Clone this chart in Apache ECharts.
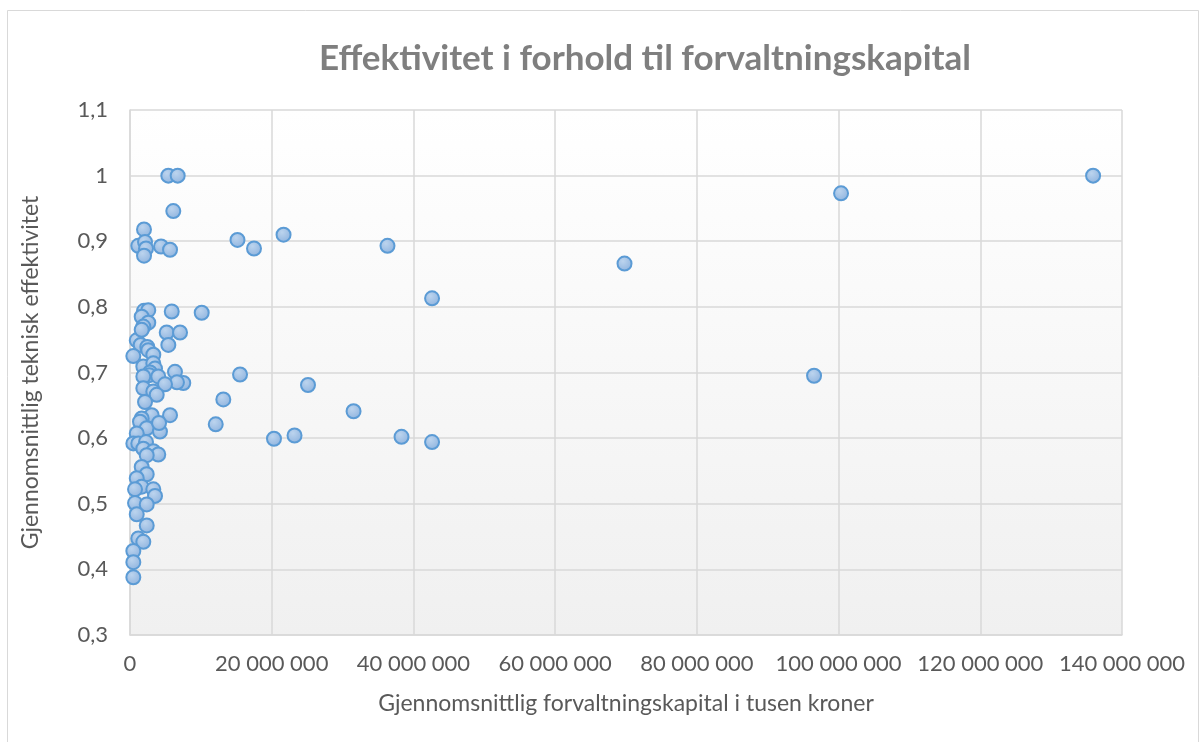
<!DOCTYPE html>
<html>
<head>
<meta charset="utf-8">
<script src="https://cdn.jsdelivr.net/npm/echarts@6/dist/echarts.min.js"></script>
<style>
  html, body { margin: 0; padding: 0; background: #ffffff; }
  #chart { width: 1203px; height: 742px; }
</style>
</head>
<body>
<div id="chart"></div>
<script>
// Gjennomsnittlig forvaltningskapital (tusen kroner) per enhet
const kapital = [
  1976000, 1170000, 2120000, 2260000, 1980000, 4380000, 5650000, 6110000, 5410000, 6730000,
  1980000, 2580000, 5890000, 1650000, 2580000, 1880000, 5180000, 7060000, 5410000, 950000,
  1510000, 2440000, 2580000, 470000, 3290000, 1880000, 3290000, 3530000, 2820000, 6350000,
  2720000, 1880000, 3990000, 7520000, 6630000, 4940000, 1880000, 3290000, 3770000, 2120000,
  3060000, 5650000, 1650000, 1410000, 2360000, 4230000, 950000, 470000, 1170000, 2260000,
  1880000, 3290000, 3990000, 2360000, 1650000, 2360000, 950000, 1650000, 710000, 3290000,
  3530000, 710000, 2360000, 950000, 2360000, 1170000, 1880000, 470000, 470000, 470000,
  4100000, 1650000,
  135920000, 100350000, 69790000, 96540000, 42630000, 42630000, 38320000, 36340000, 31550000, 25120000,
  23220000, 20320000, 21670000, 17500000, 15170000, 15530000, 13170000, 12100000, 10120000
];

// Teknisk effektivitet per enhet (samme rekkefølge)
const effektivitet = [
  0.918, 0.893, 0.899, 0.889, 0.878, 0.892, 0.887, 0.946, 1.0, 1.0,
  0.794, 0.795, 0.793, 0.785, 0.776, 0.770, 0.761, 0.761, 0.742, 0.749,
  0.742, 0.739, 0.734, 0.725, 0.727, 0.709, 0.714, 0.706, 0.700, 0.701,
  0.696, 0.694, 0.694, 0.684, 0.685, 0.682, 0.676, 0.671, 0.666, 0.655,
  0.635, 0.635, 0.630, 0.625, 0.615, 0.610, 0.607, 0.592, 0.592, 0.594,
  0.584, 0.580, 0.575, 0.574, 0.556, 0.545, 0.539, 0.526, 0.522, 0.522,
  0.512, 0.501, 0.499, 0.484, 0.467, 0.447, 0.442, 0.428, 0.411, 0.388,
  0.623, 0.765,
  1.0, 0.973, 0.866, 0.695, 0.813, 0.594, 0.602, 0.893, 0.641, 0.681,
  0.604, 0.599, 0.910, 0.889, 0.902, 0.697, 0.659, 0.621, 0.791
];

const tittel = 'Effektivitet i forhold til forvaltningskapital';
const xNavn = 'Gjennomsnittlig forvaltningskapital i tusen kroner';
const yNavn = 'Gjennomsnittlig teknisk effektivitet';

const punkter = kapital.map((x, i) => [x, effektivitet[i]]);

const fmtX = v => String(Math.round(v)).replace(/\B(?=(\d{3})+(?!\d))/g, ' ');
const fmtY = v => (Math.round(v * 10) / 10).toString().replace('.', ',');

const font = 'Lato, "Open Sans", sans-serif';
const gridColor = '#d9d9d9';
const textColor = '#595959';

const chart = echarts.init(document.getElementById('chart'), null, { renderer: 'canvas' });
chart.setOption({
  animation: false,
  backgroundColor: '#ffffff',
  graphic: [{
    type: 'rect',
    shape: { x: 7.5, y: 10.5, width: 1191, height: 740 },
    style: { fill: 'none', stroke: gridColor, lineWidth: 1 },
    silent: true,
    z: -10
  }],
  title: {
    text: tittel,
    left: 640,
    textAlign: 'center',
    top: 36,
    textStyle: { fontFamily: font, fontWeight: 'bold', fontSize: 35, color: '#7f7f7f' }
  },
  grid: {
    left: 130, top: 110, width: 992, height: 525,
    show: true,
    borderWidth: 0,
    backgroundColor: new echarts.graphic.LinearGradient(0, 0, 0, 1, [
      { offset: 0, color: '#ffffff' },
      { offset: 1, color: '#f0f0f0' }
    ])
  },
  xAxis: {
    type: 'value',
    min: 0, max: 140000000, interval: 20000000,
    name: xNavn,
    nameLocation: 'middle',
    nameGap: 57,
    nameTextStyle: { fontFamily: font, fontSize: 23, color: textColor },
    axisLine: { show: true, lineStyle: { color: gridColor, width: 1.5 } },
    axisTick: { show: false },
    axisLabel: { fontFamily: font, fontSize: 22, color: textColor, margin: 18, formatter: fmtX },
    splitLine: { show: true, lineStyle: { color: gridColor, width: 1.5 } }
  },
  yAxis: {
    type: 'value',
    min: 0.3, max: 1.1, interval: 0.1,
    name: yNavn,
    nameLocation: 'middle',
    nameGap: 88,
    nameTextStyle: { fontFamily: font, fontSize: 23, color: textColor },
    axisLine: { show: true, lineStyle: { color: gridColor, width: 1.5 } },
    axisTick: { show: false },
    axisLabel: { fontFamily: font, fontSize: 22, color: textColor, margin: 22, formatter: fmtY },
    splitLine: { show: true, lineStyle: { color: gridColor, width: 1.5 } }
  },
  series: [{
    type: 'scatter',
    data: punkter,
    symbol: 'circle',
    symbolSize: 14,
    itemStyle: {
      color: new echarts.graphic.RadialGradient(0.4, 0.35, 0.7, [
        { offset: 0, color: '#bcd4ee' },
        { offset: 1, color: '#8db2de' }
      ]),
      borderColor: '#5b9bd5',
      borderWidth: 2,
      opacity: 1
    }
  }]
});
</script>
</body>
</html>
